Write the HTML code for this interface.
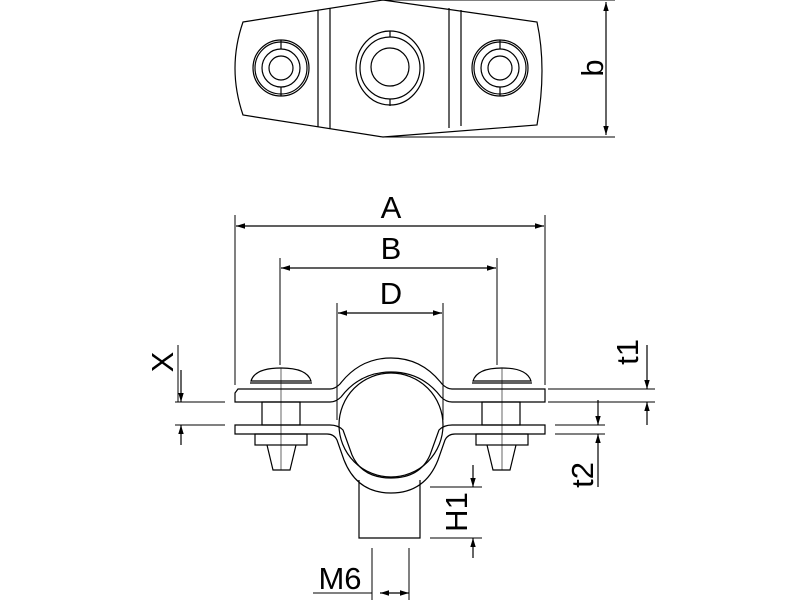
<!DOCTYPE html>
<html><head><style>body{margin:0;background:#fff}svg{display:block}text{font-family:"Liberation Sans",sans-serif;font-size:31px;fill:#000}</style></head><body>
<svg width="800" height="600" viewBox="0 0 800 600" fill="none" stroke="#000" stroke-width="1.2">
<defs><marker id="a" viewBox="0 0 10 10" refX="10" refY="5" markerWidth="9" markerHeight="9" orient="auto-start-reverse" markerUnits="userSpaceOnUse"><path d="M0,2 L10,5 L0,8 z" fill="#000" stroke="none"/></marker></defs>
<!-- top view -->
<path d="M243,22 L383,0 L537,22 Q547,68 537,125 L383,137 L243,115 Q227,68 243,22 Z"/>
<path d="M318,10V127M330,8V129M449,8V128M461,10V126"/>
<g><circle cx="281" cy="68" r="28"/><circle cx="281" cy="68" r="26"/><circle cx="281" cy="68" r="19"/><circle cx="281" cy="68" r="12"/><path d="M281,40V49M281,87V96"/></g>
<g><circle cx="500" cy="68" r="28"/><circle cx="500" cy="68" r="26"/><circle cx="500" cy="68" r="19"/><circle cx="500" cy="68" r="12"/><path d="M500,40V49M500,87V96"/></g>
<ellipse cx="390" cy="68" rx="34" ry="37"/><ellipse cx="390" cy="68" rx="30" ry="31"/><circle cx="390" cy="67" r="19"/><path d="M390,31V37M390,99V106"/>
<path d="M383,0H615M383,137H615" stroke-width="1"/>
<line x1="606" y1="2" x2="606" y2="135" marker-start="url(#a)" marker-end="url(#a)"/>
<text transform="translate(603,68) rotate(-90)" text-anchor="middle" stroke="none">b</text>
<!-- dims -->
<path d="M235,215V385M545,215V385M280,258V365M497,258V365M337,303V420M443,303V420" stroke-width="1"/>
<line x1="236" y1="226" x2="544" y2="226" marker-start="url(#a)" marker-end="url(#a)"/>
<line x1="281" y1="268" x2="496" y2="268" marker-start="url(#a)" marker-end="url(#a)"/>
<line x1="338" y1="313" x2="442" y2="313" marker-start="url(#a)" marker-end="url(#a)"/>
<text x="391" y="218" text-anchor="middle" stroke="none">A</text>
<text x="391" y="259" text-anchor="middle" stroke="none">B</text>
<text x="391" y="304" text-anchor="middle" stroke="none">D</text>
<!-- clamp -->
<circle cx="391" cy="425" r="52"/>
<path d="M235,393 L238,389 H330 Q335,389 340,384 Q360,358 391,358 Q422,358 442,384 Q447,389 452,389 H545 V402 H452 Q446,402 441,397 Q422,372 391,372 Q360,372 341,397 Q336,402 330,402 H235 Z"/>
<path d="M235,425 H330 Q338,425 343,430 L352,455 Q362,478 391,478 Q420,478 430,455 L439,430 Q444,425 452,425 H545 V434 H455 Q448,434 445,440 L438,460 Q425,493 391,493 Q357,493 344,460 L337,440 Q334,434 327,434 H235 Z"/>
<path d="M359,480 V538 H420 V480"/>
<!-- screws -->
<g><path d="M251,381 Q255,368 281,368 Q307,368 311,381 Z"/><path d="M250,383H312"/><rect x="262" y="402" width="38" height="23"/><rect x="255" y="434" width="52" height="11"/><path d="M267,445 L273,470 H290 L296,445"/><path d="M281,368V470" stroke-width="0.6"/></g>
<g><path d="M473,381 Q477,368 502,368 Q527,368 531,381 Z"/><path d="M472,383H532"/><rect x="482" y="402" width="38" height="23"/><rect x="476" y="434" width="52" height="11"/><path d="M487,445 L493,470 H510 L516,445"/><path d="M502,368V470" stroke-width="0.6"/></g>
<!-- X -->
<path d="M175,402H225M175,425H225M178,402V345M181,425V440" stroke-width="1"/>
<line x1="181" y1="370" x2="181" y2="402" marker-end="url(#a)"/>
<line x1="181" y1="445" x2="181" y2="425" marker-end="url(#a)"/>
<text transform="translate(173,362) rotate(-90)" text-anchor="middle" stroke="none">X</text>
<!-- t1 -->
<path d="M548,389H655M548,402H655" stroke-width="1"/>
<line x1="647" y1="345" x2="647" y2="389" marker-end="url(#a)"/>
<line x1="647" y1="425" x2="647" y2="402" marker-end="url(#a)"/>
<text transform="translate(638,352) rotate(-90)" text-anchor="middle" stroke="none">t1</text>
<!-- t2 -->
<path d="M555,425H605M555,434H605" stroke-width="1"/>
<line x1="598" y1="400" x2="598" y2="425" marker-end="url(#a)"/>
<line x1="598" y1="487" x2="598" y2="434" marker-end="url(#a)"/>
<text transform="translate(593,475) rotate(-90)" text-anchor="middle" stroke="none">t2</text>
<!-- H1 -->
<path d="M430,487H482M430,538H482" stroke-width="1"/>
<line x1="473" y1="465" x2="473" y2="487" marker-end="url(#a)"/>
<line x1="473" y1="558" x2="473" y2="538" marker-end="url(#a)"/>
<text transform="translate(467,512) rotate(-90)" text-anchor="middle" stroke="none">H1</text>
<!-- M6 -->
<path d="M372,548V600M409,548V600M313,593H372" stroke-width="1"/>
<line x1="380" y1="593" x2="409" y2="593" marker-start="url(#a)" marker-end="url(#a)"/>
<text x="340" y="589" text-anchor="middle" stroke="none">M6</text>
</svg>
</body></html>
